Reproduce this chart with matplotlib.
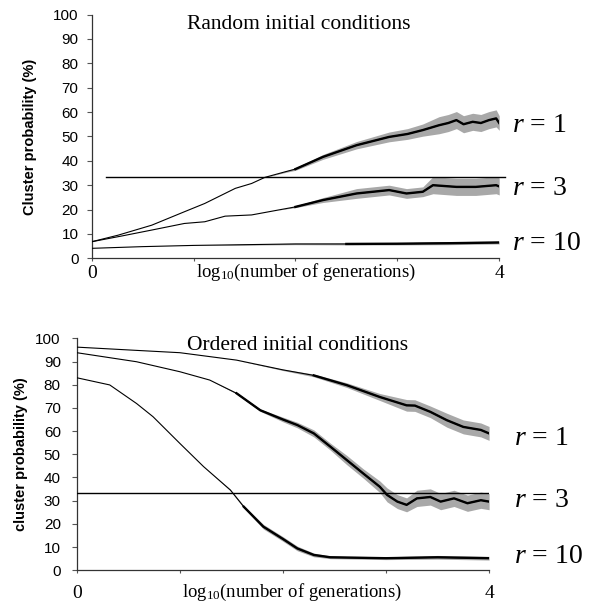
import numpy as np
import matplotlib
matplotlib.use("Agg")
import matplotlib.pyplot as plt

plt.rcParams['mathtext.fontset'] = 'custom'
plt.rcParams['mathtext.rm'] = 'Liberation Serif'
plt.rcParams['mathtext.it'] = 'Liberation Serif:italic'

# ---- data (x = log10 generations, y = cluster probability %) ----
# random initial conditions
rand_r1_x = [0, 0.26, 0.59, 0.91, 1.11, 1.41, 1.57, 1.70, 1.90, 2.0, 2.27, 2.6, 2.92, 3.1, 3.25, 3.41, 3.5, 3.58, 3.65, 3.74, 3.82, 3.9, 3.97, 4.0]
rand_r1_y = [6.8, 9.5, 13.6, 19.1, 22.5, 28.7, 30.7, 33.2, 35.5, 36.6, 41.6, 46.4, 49.8, 51.0, 52.6, 54.6, 55.5, 56.7, 55.0, 56.0, 55.5, 56.7, 57.4, 55.5]
rand_r1_s = [0, 0, 0, 0, 0, 0, 0, 0, 0.3, 0.5, 1, 1.5, 2, 2.2, 2.5, 3.5, 3.5, 3.5, 3.5, 3.5, 3.5, 3.5, 3.5, 3]

rand_r3_x = [0, 0.3, 0.59, 0.91, 1.11, 1.31, 1.57, 1.83, 2.0, 2.27, 2.6, 2.76, 2.92, 3.09, 3.25, 3.35, 3.58, 3.77, 3.97, 4.0]
rand_r3_y = [6.8, 9.2, 11.6, 14.3, 15.0, 17.3, 17.8, 19.8, 21.1, 23.9, 26.6, 27.3, 28.0, 26.6, 27.3, 30.0, 29.3, 29.3, 30.0, 29.5]
rand_r3_s = [0, 0, 0, 0, 0, 0, 0, 0, 0.3, 1, 2, 2, 2, 2, 2, 3.5, 3.5, 3.5, 3.5, 3.5]

rand_r10_x = [0, 0.5, 1.0, 1.5, 2.0, 2.5, 3.0, 3.5, 4.0]
rand_r10_y = [4.1, 4.8, 5.3, 5.6, 5.9, 5.9, 6.0, 6.2, 6.5]
rand_r10_s = [0, 0, 0, 0.2, 0.3, 0.4, 0.5, 0.6, 0.6]

# ordered initial conditions
ord_r1_x = [0, 0.58, 1.0, 1.55, 2.0, 2.3, 2.62, 2.94, 3.2, 3.28, 3.43, 3.59, 3.75, 3.92, 4.0]
ord_r1_y = [96.2, 94.8, 93.8, 90.6, 86.4, 84.0, 79.8, 74.7, 71.1, 71.0, 68.3, 64.7, 61.8, 60.5, 59.0]
ord_r1_s = [0, 0, 0, 0, 0.3, 0.6, 1, 1.5, 2.5, 2.5, 2.5, 3, 3, 3, 3]

ord_r3_x = [0, 0.58, 1.0, 1.29, 1.55, 1.78, 2.0, 2.14, 2.3, 2.46, 2.62, 2.78, 2.94, 3.01, 3.11, 3.2, 3.3, 3.43, 3.53, 3.66, 3.79, 3.92, 4.0]
ord_r3_y = [93.8, 89.9, 85.6, 82.0, 76.3, 69.0, 65.0, 62.6, 59.0, 53.3, 47.5, 41.7, 36.0, 32.5, 29.6, 28.2, 31.0, 31.6, 29.6, 31.0, 28.9, 30.2, 29.6]
ord_r3_s = [0, 0, 0, 0, 0.3, 0.5, 1, 1.2, 1.5, 1.5, 2, 2, 2.5, 3, 3, 3, 3.5, 3.5, 3.5, 3.5, 3.5, 3.5, 3.5]

ord_r10_x = [0, 0.32, 0.58, 0.74, 1.0, 1.23, 1.49, 1.62, 1.81, 2.0, 2.14, 2.3, 2.46, 3.0, 3.5, 4.0]
ord_r10_y = [83.0, 79.9, 71.9, 66.2, 54.7, 44.7, 34.6, 27.4, 18.8, 13.5, 9.4, 6.6, 5.6, 5.2, 5.6, 5.2]
ord_r10_s = [0, 0, 0, 0, 0, 0, 0.3, 0.5, 1, 1, 1, 0.8, 0.6, 0.6, 0.8, 0.8]

chance_level = 33.3
r_labels = [r'$r$ = 1', r'$r$ = 3', r'$r$ = 10']
yticks = list(range(0, 101, 10))


def draw_curve(ax, x, y, s, thick_from):
    x = np.array(x); y = np.array(y); s = np.array(s)
    ax.fill_between(x, y - s, y + s, color='#a8a8a8', lw=0, zorder=2)
    ax.plot(x, y, color='black', lw=0.8, zorder=3)
    m = x >= thick_from
    ax.plot(x[m], y[m], color='black', lw=1.7, zorder=4)


def style_axes(ax, ylabel, tickpad, ypad):
    ax.set_xlim(0, 4)
    ax.set_ylim(0, 100)
    for side in ['top', 'right']:
        ax.spines[side].set_visible(False)
    for side in ['left', 'bottom']:
        ax.spines[side].set_color('#333333')
        ax.spines[side].set_linewidth(0.9)
    ax.set_yticks(yticks)
    ax.set_yticklabels([str(t) for t in yticks], family='Liberation Sans', fontsize=11)
    ax.set_xticks([0, 1, 2, 3, 4])
    ax.set_xticklabels(['0', '', '', '', '4'], family='Liberation Serif', fontsize=14)
    ax.tick_params(axis='y', direction='out', length=3.5, width=0.8, color='#555555', pad=ypad)
    ax.tick_params(axis='x', direction='out', length=2.5, width=0.8, color='#555555', pad=tickpad)
    ax.set_ylabel(ylabel, family='Liberation Sans', fontweight='bold', fontsize=10.5)


fig = plt.figure(figsize=(5.95, 6.05), dpi=100)

# top panel
ax1 = fig.add_axes([0.154, 0.573, 0.685, 0.403])
style_axes(ax1, 'Cluster probability (%)', 2, 6)
ax1.yaxis.set_label_coords(-0.134, 0.5)
draw_curve(ax1, rand_r10_x, rand_r10_y, rand_r10_s, 2.5)
draw_curve(ax1, rand_r3_x, rand_r3_y, rand_r3_s, 2.0)
draw_curve(ax1, rand_r1_x, rand_r1_y, rand_r1_s, 2.0)
ax1.plot([0.14, 4.06], [chance_level, chance_level], color='black', lw=1.0, clip_on=False, zorder=5)
ax1.text(0.94, 94, 'Random initial conditions', family='Liberation Serif', fontsize=15.5, ha='left', va='baseline')
ax1.text(1.02, -0.0754, r'log$_{10}$(number of generations)', family='Liberation Serif', fontsize=13.5,
         ha='left', va='baseline', transform=ax1.get_xaxis_transform())
for lab, yy in zip(r_labels, [51.9, 25.9, 3.4]):
    ax1.text(4.13, yy, lab, family='Liberation Serif', fontsize=20, ha='left', va='baseline')

# bottom panel
ax2 = fig.add_axes([0.129, 0.0574, 0.693, 0.3834])
style_axes(ax2, 'cluster probability (%)', 8, 8)
ax2.yaxis.set_label_coords(-0.118, 0.5)
draw_curve(ax2, ord_r10_x, ord_r10_y, ord_r10_s, 1.6)
draw_curve(ax2, ord_r3_x, ord_r3_y, ord_r3_s, 1.5)
draw_curve(ax2, ord_r1_x, ord_r1_y, ord_r1_s, 2.3)
ax2.plot([0, 4.0], [chance_level, chance_level], color='black', lw=1.0, zorder=5)
ax2.text(1.07, 95, 'Ordered initial conditions', family='Liberation Serif', fontsize=15.5, ha='left', va='baseline')
ax2.text(1.02, -0.114, r'log$_{10}$(number of generations)', family='Liberation Serif', fontsize=13.5,
         ha='left', va='baseline', transform=ax2.get_xaxis_transform())
for lab, yy in zip(r_labels, [54, 27.4, 3.0]):
    ax2.text(4.24, yy, lab, family='Liberation Serif', fontsize=20, ha='left', va='baseline')

fig.savefig('out.png', dpi=100)
